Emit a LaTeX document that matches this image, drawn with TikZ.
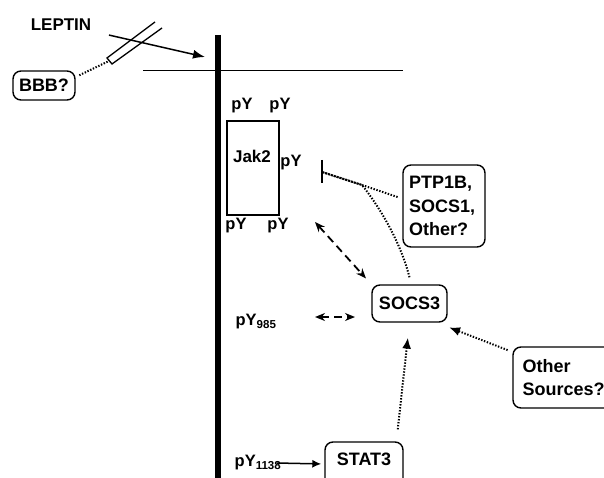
\documentclass[tikz,border=0pt]{standalone}
\usepackage{fontspec}
\setmainfont{Liberation Sans}
\usetikzlibrary{arrows.meta,positioning}
\tikzset{
  sigbox/.style={draw, line width=1.4pt, rounded corners=8pt, inner sep=0pt,
    font=\bfseries\fontsize{18}{23.5}\selectfont},
  lbl/.style={inner sep=0pt, font=\bfseries\fontsize{17}{20}\selectfont},
  pylbl/.style={inner sep=0pt, font=\bfseries\fontsize{16.5}{18}\selectfont},
  dotline/.style={line width=2pt, dash pattern=on 1.4pt off 1.6pt},
  dotarrow/.style={dotline, -{Latex[length=11pt,width=9pt]}},
  dasharrow/.style={line width=1.8pt, dash pattern=on 8pt off 5pt,
    {Stealth[length=10pt,width=8pt]}-{Stealth[length=10pt,width=8pt]}},
}
\begin{document}
\begin{tikzpicture}[x=1pt,y=-1pt]
\useasboundingbox (0,0) rectangle (604,478);
% receptor and membrane
\draw[line width=6.5pt] (218,35) -- (218,482);
\draw[line width=1pt] (143,71) -- (403,71);
% leptin and BBB
\node[lbl] (leptin) at (61,25) {LEPTIN};
\draw[line width=1.3pt] (155,22) -- (107,58) -- (112,64) -- (162,28);
\coordinate (tubeend) at (109,61);
\coordinate (lepin) at (205,57);
\draw[line width=1.5pt, -{Latex[length=12pt,width=9pt]}, shorten <=18pt] (leptin.south east) -- (lepin);
\node[sigbox, minimum width=62pt, minimum height=29pt] (bbb) at (44,85.5) {BBB?};
\draw[dotline, shorten <=4pt] (bbb.15) -- (tubeend);
% Jak2
\node[draw, line width=1.4pt, minimum width=52pt, minimum height=94pt, inner sep=0pt] (jak) at (253,168) {};
\node[lbl] (jaklbl) at (252,156) {Jak2};
\foreach \x/\y [count=\i] in {242/106, 280/106, 291/163, 236/226, 278/226}
    \node[pylbl] (py\i) at (\x,\y) {pY};
\node[pylbl] (pyA) at (256,322) {pY\textsubscript{985}};
\node[pylbl] (pyB) at (258,463) {pY\textsubscript{1138}};
% boxes
\node[sigbox, minimum width=82pt, minimum height=82pt, text width=70pt, align=left] (ptp) at (444,206) {PTP1B,\\SOCS1,\\Other?};
\node[sigbox, minimum width=75pt, minimum height=37pt] (socs) at (409.5,303.5) {SOCS3};
\node[sigbox, minimum width=99pt, minimum height=61pt, text width=80pt, align=left] (other) at (562.5,377.5) {Other\\Sources?};
\node[sigbox, minimum width=78pt, minimum height=44pt, text depth=10pt] (stat) at (364,464) {STAT3};
% inhibition
\coordinate (tbar) at (322,172);
\coordinate (merge) at (362,185);
\draw[line width=1.6pt] ([yshift=12pt]tbar) -- ([yshift=-11pt]tbar);
\draw[dotline, shorten <=5pt] (ptp.170) -- (merge) -- (tbar);
\draw[dotline] ([yshift=7pt]socs.north) .. controls (400,240) and (378,205) .. (merge) -- (tbar);
% SOCS3 links
\coordinate (jakpt) at (315,222);
\draw[dasharrow, shorten >=8pt] (jakpt) -- (socs.north west);
\coordinate (d1) at (315,317);
\coordinate (d2) at (355,317);
\draw[dasharrow] (d1) -- (d2);
\draw[dotarrow, shorten <=12pt, shorten >=15pt] (stat.35) -- (socs.south);
\draw[dotarrow, shorten <=5pt, shorten >=13pt] (other.153) -- (socs.-35);
\draw[line width=1.5pt, -{Latex[length=9pt,width=8pt]}, shorten >=3pt] ([xshift=-5pt]pyB.east) -- (stat.west);
\end{tikzpicture}
\end{document}
